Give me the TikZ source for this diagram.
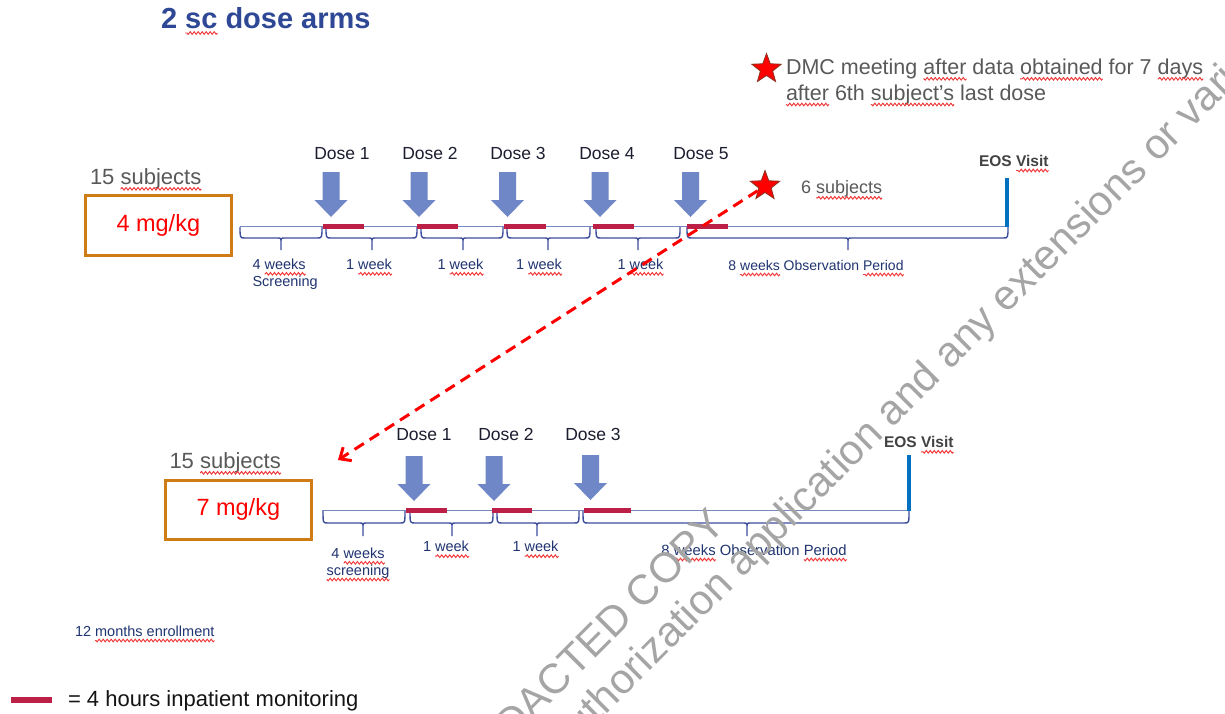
\documentclass[tikz,border=0pt]{standalone}
\usepackage{fontspec}
\setmainfont{Liberation Sans}
\usetikzlibrary{shapes.geometric,arrows.meta,decorations.pathmorphing}

\definecolor{titleblue}{RGB}{46,72,150}
\definecolor{doseblue}{RGB}{112,135,199}
\definecolor{lineblue}{RGB}{120,135,190}
\definecolor{braceblue}{RGB}{62,78,158}
\definecolor{monred}{RGB}{188,32,70}
\definecolor{boxorange}{RGB}{207,124,22}
\definecolor{graytext}{RGB}{89,89,89}
\definecolor{weektext}{RGB}{32,52,112}
\definecolor{eosblue}{RGB}{0,112,192}
\definecolor{eostext}{RGB}{66,66,66}
\definecolor{dosetext}{RGB}{28,30,48}
\definecolor{legendtext}{RGB}{20,20,20}
\definecolor{wavered}{RGB}{240,55,55}
\definecolor{wmgray}{RGB}{165,165,165}
\definecolor{starred}{RGB}{255,0,0}
\definecolor{staredge}{RGB}{140,50,30}

% font size shortcut
\newcommand\fsz[1]{\fontsize{#1}{#1}\selectfont}
% red wavy underline for flagged words
\newsavebox\sqbox
\newcommand\sq[1]{\sbox\sqbox{#1}\usebox\sqbox\tikz[overlay,baseline=0pt]\draw[draw=wavered,line width=0.95pt,decorate,decoration={snake,amplitude=1.3pt,segment length=4pt}] (0pt,-4.5pt) -- ({-\wd\sqbox},-4.5pt);}

% curly brace under a timeline: x-left, x-right, x-middle, y-top, y-bottom, y-tick
\newcommand\tlbrace[6]{%
  \draw[bracestyle] (#1,#4) .. controls (#1,#5) .. (#1+5,#5) -- (#3-4,#5)
    .. controls (#3,#5) .. (#3,#5+4) -- (#3,#6)
    (#3,#5+4) .. controls (#3,#5) .. (#3+4,#5) -- (#2-5,#5)
    .. controls (#2,#5) .. (#2,#4);}
% inpatient monitoring bar: x-left, x-right, y
\newcommand\monbar[3]{\draw[monitor] (#1,#3) -- (#2,#3);}

\begin{document}
\begin{tikzpicture}[x=1pt,y=-1pt,
  txt/.style={inner sep=0pt,outer sep=0pt},
  titletext/.style={txt,anchor=base west,font=\fsz{29}\bfseries,text=titleblue},
  notetext/.style={txt,anchor=base west,font=\fsz{21.5},text=graytext},
  subjtext/.style={txt,anchor=base west,font=\fsz{22},text=graytext},
  dosebox/.style={draw=boxorange,line width=3pt,minimum width=146pt,minimum height=59.5pt,inner sep=0pt,text=red,font=\fsz{23.5}},
  doselabel/.style={txt,anchor=base,font=\fsz{17.5},text=dosetext},
  weeklabel/.style={txt,anchor=base,font=\fsz{14.5},text=weektext},
  eoslabel/.style={txt,anchor=base west,font=\fsz{15.5}\bfseries,text=eostext},
  redstar/.style={star,star points=5,star point ratio=2.4,minimum size=31pt,inner sep=0pt,fill=starred,draw=staredge,line width=0.8pt},
  tline/.style={draw=lineblue,line width=1.3pt},
  bracestyle/.style={draw=braceblue,line width=1.4pt},
  monitor/.style={draw=monred,line width=4.5pt},
  eosbar/.style={draw=eosblue,line width=3.5pt},
  dmcarrow/.style={draw=starred,line width=3pt,dash pattern=on 11pt off 7pt,-{Straight Barb[length=9pt,width=16pt]}},
  wmark/.style={txt,rotate=45,font=\fsz{42},text=wmgray},
  dosearrow/.pic={\fill[doseblue] (-8.5,-45) -- (8.5,-45) -- (8.5,-17) -- (16.5,-17)
      -- (0,0) -- (-16.5,-17) -- (-8.5,-17) -- cycle;}
]
\useasboundingbox[fill=white] (0,0) rectangle (1225,713);

% heading and DMC note
\node[titletext] (title) at (161,28.5) {2 \sq{sc} dose arms};
\node[redstar] (stardmc) at (766.5,69) {};
\node[notetext] (dmc1) at (786,74.3) {DMC meeting \sq{after} data \sq{obtained} for 7 \sq{days}};
\node[notetext] (dmc2) at (786,100) {\sq{after} 6th \sq{subject’s} last dose};

% ---------- 4 mg/kg arm ----------
\node[subjtext] (subjA) at (90,184.3) {15 \sq{subjects}};
\node[dosebox] (boxA) at (158.3,225.3) {4 mg/kg};

\coordinate (tlA0) at (240,226.5);
\coordinate (tlA1) at (1007,226.5);
\coordinate (eosA) at (1007,178);
\draw[tline] (tlA0) -- (tlA1);
\draw[eosbar] (eosA) -- (tlA1);

\tlbrace{240}{322}{281}{227}{238}{250}
\tlbrace{326}{417}{372}{227}{238}{250}
\tlbrace{421}{503}{463}{227}{238}{250}
\tlbrace{507}{590}{548}{227}{238}{250}
\tlbrace{596}{680}{638}{227}{238}{250}
\tlbrace{687}{1008}{848}{227}{238}{250}

\monbar{323}{364}{226.5}
\monbar{417}{458}{226.5}
\monbar{504}{546}{226.5}
\monbar{593}{634}{226.5}
\monbar{687}{728}{226.5}

\pic at (331,217) {dosearrow};
\pic at (419,217) {dosearrow};
\pic at (507.5,217) {dosearrow};
\pic at (600,217) {dosearrow};
\pic at (690.5,217) {dosearrow};

\node[doselabel] (doseA1) at (342,159.3) {Dose 1};
\node[doselabel] (doseA2) at (430,159.3) {Dose 2};
\node[doselabel] (doseA3) at (518,159.3) {Dose 3};
\node[doselabel] (doseA4) at (607,159.3) {Dose 4};
\node[doselabel] (doseA5) at (701,159.3) {Dose 5};

\node[weeklabel,anchor=base west] (scrA1) at (252.5,269.3) {4 \sq{weeks}};
\node[weeklabel,anchor=base west] (scrA2) at (252.5,286.7) {Screening};
\node[weeklabel] (wkA1) at (369,269.3) {1 \sq{week}};
\node[weeklabel] (wkA2) at (460.5,269.3) {1 \sq{week}};
\node[weeklabel] (wkA3) at (539,269.3) {1 \sq{week}};
\node[weeklabel] (wkA4) at (640.5,269.3) {1 \sq{week}};
\node[weeklabel,font=\fsz{14}] (obsA) at (816,270) {8 \sq{weeks} Observation \sq{Period}};

\node[eoslabel] (eosTextA) at (979,166) {EOS \sq{Visit}};
\node[redstar] (star6) at (765,186) {};
\node[txt,anchor=base west,font=\fsz{18},text=graytext] (six) at (801,193.3) {6 \sq{subjects}};

% ---------- 7 mg/kg arm ----------
\node[subjtext] (subjB) at (169.5,468.3) {15 \sq{subjects}};
\node[dosebox] (boxB) at (238.3,509.9) {7 mg/kg};

\coordinate (tlB0) at (322,510.5);
\coordinate (tlB1) at (909,510.5);
\coordinate (eosB) at (909,455);
\draw[tline] (tlB0) -- (tlB1);
\draw[eosbar] (eosB) -- (tlB1);

\tlbrace{323}{405}{363}{511}{523}{536}
\tlbrace{410}{493}{452}{511}{523}{536}
\tlbrace{497}{579}{537}{511}{523}{536}
\tlbrace{583}{909}{747}{511}{523}{536}

\monbar{406}{447}{510.5}
\monbar{492}{532}{510.5}
\monbar{584}{631}{510.5}

\pic at (414,501) {dosearrow};
\pic at (494,501) {dosearrow};
\pic at (590.5,500) {dosearrow};

\node[doselabel] (doseB1) at (424,440.7) {Dose 1};
\node[doselabel] (doseB2) at (506,440.7) {Dose 2};
\node[doselabel] (doseB3) at (593,440.7) {Dose 3};

\node[weeklabel] (scrB1) at (358,558.3) {4 \sq{weeks}};
\node[weeklabel] (scrB2) at (358,575) {\sq{screening}};
\node[weeklabel] (wkB1) at (446,551.7) {1 \sq{week}};
\node[weeklabel] (wkB2) at (535.5,551.7) {1 \sq{week}};
\node[weeklabel,font=\fsz{14.8}] (obsB) at (754,555) {8 \sq{weeks} Observation \sq{Period}};

\node[eoslabel] (eosTextB) at (884,447.3) {EOS \sq{Visit}};

% DMC decision leading to the second arm
\coordinate (armB) at (338,460);
\draw[dmcarrow] (star6) -- (armB);

% footer notes
\node[txt,anchor=base west,font=\fsz{14.5},text=weektext] (enrol) at (75,636) {12 \sq{months enrollment}};
\coordinate (legA) at (11,700);
\coordinate (legB) at (52,700);
\draw[monitor,line width=6pt] (legA) -- (legB);
\node[txt,anchor=base west,font=\fsz{22},text=legendtext] (legend) at (68,706) {= 4 hours inpatient monitoring};

% diagonal watermark
\begin{scope}
  \clip (0,0) rectangle (1225,713);
  \node[wmark,anchor=base east] (wm1) at (727,527) {REDACTED COPY};
  \node[wmark,anchor=base west] (wm2) at (564.5,756.5) {authorization application and any extensions or variations};
\end{scope}
\end{tikzpicture}
\end{document}
